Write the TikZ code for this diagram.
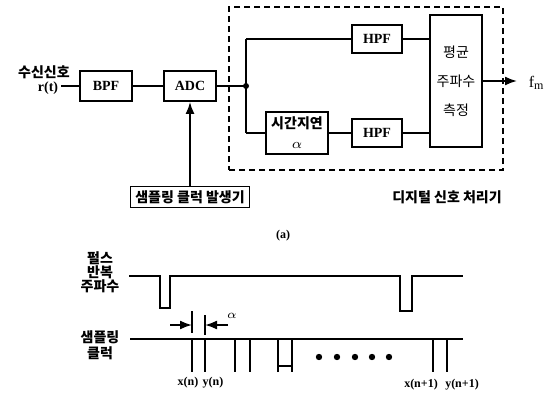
\documentclass[tikz,border=0pt]{standalone}
\usepackage{fontspec}
\setmainfont{Liberation Serif}
\newfontfamily\krfont{Noto Sans CJK KR}
\usetikzlibrary{arrows.meta,positioning,calc}

\begin{document}
\begin{tikzpicture}[x=0.5pt, y=-0.5pt, line width=0.9pt, >={Latex[length=6pt,width=4.5pt]},
  every node/.style={font=\bfseries\fontsize{7}{8}\selectfont},
  blk/.style={draw, inner sep=0pt},
  krlbl/.style={font=\krfont\bfseries\fontsize{7}{7}\selectfont, inner sep=0pt, align=center},
  idx/.style={inner sep=0pt, font=\bfseries\fontsize{6}{6}\selectfont},
  sig/.style={line width=1pt}]
\useasboundingbox (0,0) rectangle (557,396);

% (a) receiver block diagram
\node[krlbl] (rxlbl) at (44,72) {수신신호};
\node[inner sep=1pt] (rx) at (48,88) {r(t)};
\node[blk, minimum width=26pt, minimum height=15pt] (bpf) at (106,86) {BPF};
\node[blk, minimum width=26pt, minimum height=15pt] (adc) at (190,86) {ADC};
\node[blk, krlbl, minimum width=59.5pt, minimum height=10.5pt] (clk) at (190,197) {샘플링 클럭 발생기};

\node[draw, densely dashed, line width=1pt, minimum width=137pt, minimum height=81.5pt] (dsp) at (366,88.5) {};
\node[krlbl] (dsplbl) at (447,197) {디지털 신호 처리기};

\node[blk, minimum width=25pt, minimum height=14pt] (hpfa) at (377,39) {HPF};
\node[blk, krlbl, minimum width=31pt, minimum height=21pt, font=\krfont\bfseries\fontsize{7}{10}\selectfont] (delay) at (297,133) {시간지연\\$\alpha$};
\node[blk, minimum width=25pt, minimum height=14pt] (hpfb) at (377,133) {HPF};
\node[blk, krlbl, minimum width=26pt, minimum height=66pt, font=\krfont\fontsize{7}{14.5}\selectfont] (meas) at (456,81) {평균\\주파수\\측정};
\coordinate (outp) at (517,81);
\node[anchor=west, inner sep=0pt, font=\fontsize{8}{9}\selectfont] (fm) at (528,83) {f\textsubscript{m}};

\coordinate (jn) at (246,86);
\coordinate (jt) at (246,39);
\coordinate (jb) at (246,133);

\draw (rx.east |- bpf.west) -- (bpf.west);
\draw (bpf.east) -- (adc.west);
\draw[->] (clk.north) -- (adc.south);
\draw (adc.east) -- (jn);
\fill (jn) circle (1.5pt);
\draw (jt) -- (jb);
\draw (jt) -- (hpfa.west);
\draw (jb) -- (delay.west);
\draw (delay.east) -- (hpfb.west);
\draw (hpfa.east) -- (hpfa.east -| meas.west);
\draw (hpfb.east) -- (hpfb.east -| meas.west);
\draw[->] (meas.east) -- (outp);

\node[font=\bfseries\fontsize{6}{7}\selectfont] (cap) at (283,236) {(a)};

% timing of pulses and sampling clock
\node[krlbl] (prflbl) at (100,272) {펄스\\반복\\주파수};
\node[krlbl, font=\krfont\bfseries\fontsize{7}{8}\selectfont] (smplbl) at (100,345) {샘플링\\클럭};

\draw[sig] (129,276) -- (160,276) -- (160,308) -- (170,308) -- (170,276) -- (400,276)
  -- (400,311) -- (412,311) -- (412,276) -- (463,276);

\draw[sig] (130,339) -- (463,339);
\foreach \x in {192,205,235,250,433,447}
  \draw[sig] (\x,339) -- (\x,372);
\draw[sig] (278,372) -- (278,339) (278,366) -- (292,366) (292,339) -- (292,372);
\foreach \x in {319,337,355,372,389}
  \fill (\x,357) circle (1.6pt);

\draw (192,311) -- (192,333);
\draw (205,315) -- (205,335);
\draw[->] (170,325) -- (192,325);
\draw[->] (228,325) -- (205,325);
\node[idx] (alph) at (232,316) {$\alpha$};

\node[idx] (xn) at (188,383) {x(n)};
\node[idx] (yn) at (213,383) {y(n)};
\node[idx] (xn1) at (421,385) {x(n+1)};
\node[idx] (yn1) at (462,385) {y(n+1)};
\end{tikzpicture}
\end{document}
